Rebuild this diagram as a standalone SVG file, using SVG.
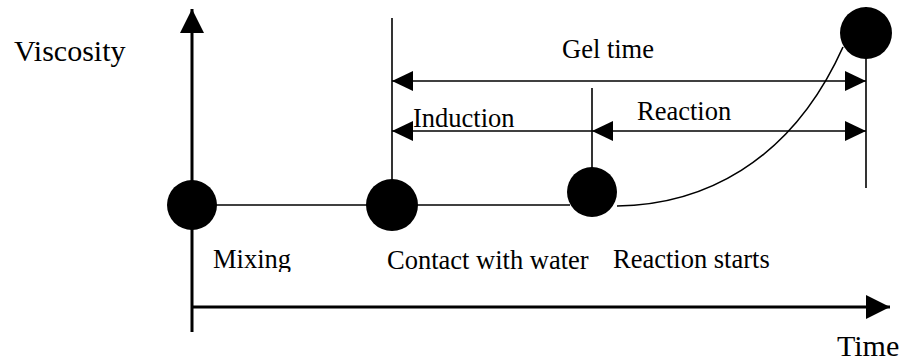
<svg xmlns="http://www.w3.org/2000/svg" width="904" height="362" viewBox="0 0 904 362">
<style>
.t{font-family:"Liberation Serif","Times New Roman",serif;fill:#000;font-size:26.5px}
.ax{font-size:30px}
.thin{stroke:#000;stroke-width:1.6;fill:none}
.axis{stroke:#000;stroke-width:3;fill:none}
.dot{fill:#000}
</style>
<defs>
<marker id="ah" viewBox="0 0 21 20" refX="21" refY="10" markerWidth="21" markerHeight="20" markerUnits="userSpaceOnUse" orient="auto-start-reverse">
<path d="M0,0 L21,10 L0,20 Z" fill="#000"/>
</marker>
<marker id="axh" viewBox="0 0 24 24" refX="24" refY="12" markerWidth="24" markerHeight="24" markerUnits="userSpaceOnUse" orient="auto">
<path d="M0,0 L24,12 L0,24 Z" fill="#000"/>
</marker>
<clipPath id="lc"><rect x="0" y="0" width="904" height="272"/></clipPath>
</defs>
<g id="axes">
<line class="axis" x1="192" y1="332" x2="192" y2="9" marker-end="url(#axh)"/>
<line class="axis" x1="192" y1="307" x2="890" y2="307" marker-end="url(#axh)"/>
<text class="t ax" x="14" y="61">Viscosity</text>
<text class="t ax" x="837" y="356">Time</text>
</g>
<g id="connectors">
<line class="thin" x1="192" y1="205" x2="570" y2="205"/>
<line class="thin" x1="392" y1="18" x2="392" y2="205"/>
<line class="thin" x1="592" y1="88" x2="592" y2="192"/>
<line class="thin" x1="866" y1="7" x2="866" y2="188"/>
<path class="thin" d="M617,206 C700,205 790,165 843,47"/>
<line class="thin" x1="392" y1="81" x2="866" y2="81" marker-start="url(#ah)" marker-end="url(#ah)"/>
<line class="thin" x1="392" y1="131" x2="592" y2="131" marker-start="url(#ah)"/>
<line class="thin" x1="592" y1="131" x2="866" y2="131" marker-start="url(#ah)" marker-end="url(#ah)"/>
</g>
<g id="gel-time-label"><text class="t" x="562" y="58">Gel time</text></g>
<g id="induction-label"><text class="t" x="413" y="127">Induction</text></g>
<g id="reaction-label"><text class="t" x="637" y="120">Reaction</text></g>
<g id="mixing">
<circle class="dot" cx="192" cy="205" r="25"/>
<text class="t" x="213" y="268" clip-path="url(#lc)">Mixing</text>
</g>
<g id="contact">
<circle class="dot" cx="392" cy="205" r="26"/>
<text class="t" x="387" y="269" clip-path="url(#lc)">Contact with water</text>
</g>
<g id="reaction-starts">
<circle class="dot" cx="592" cy="192" r="25"/>
<text class="t" x="613" y="268" clip-path="url(#lc)">Reaction starts</text>
</g>
<g id="gel">
<circle class="dot" cx="866" cy="33" r="26"/>
</g>
</svg>
